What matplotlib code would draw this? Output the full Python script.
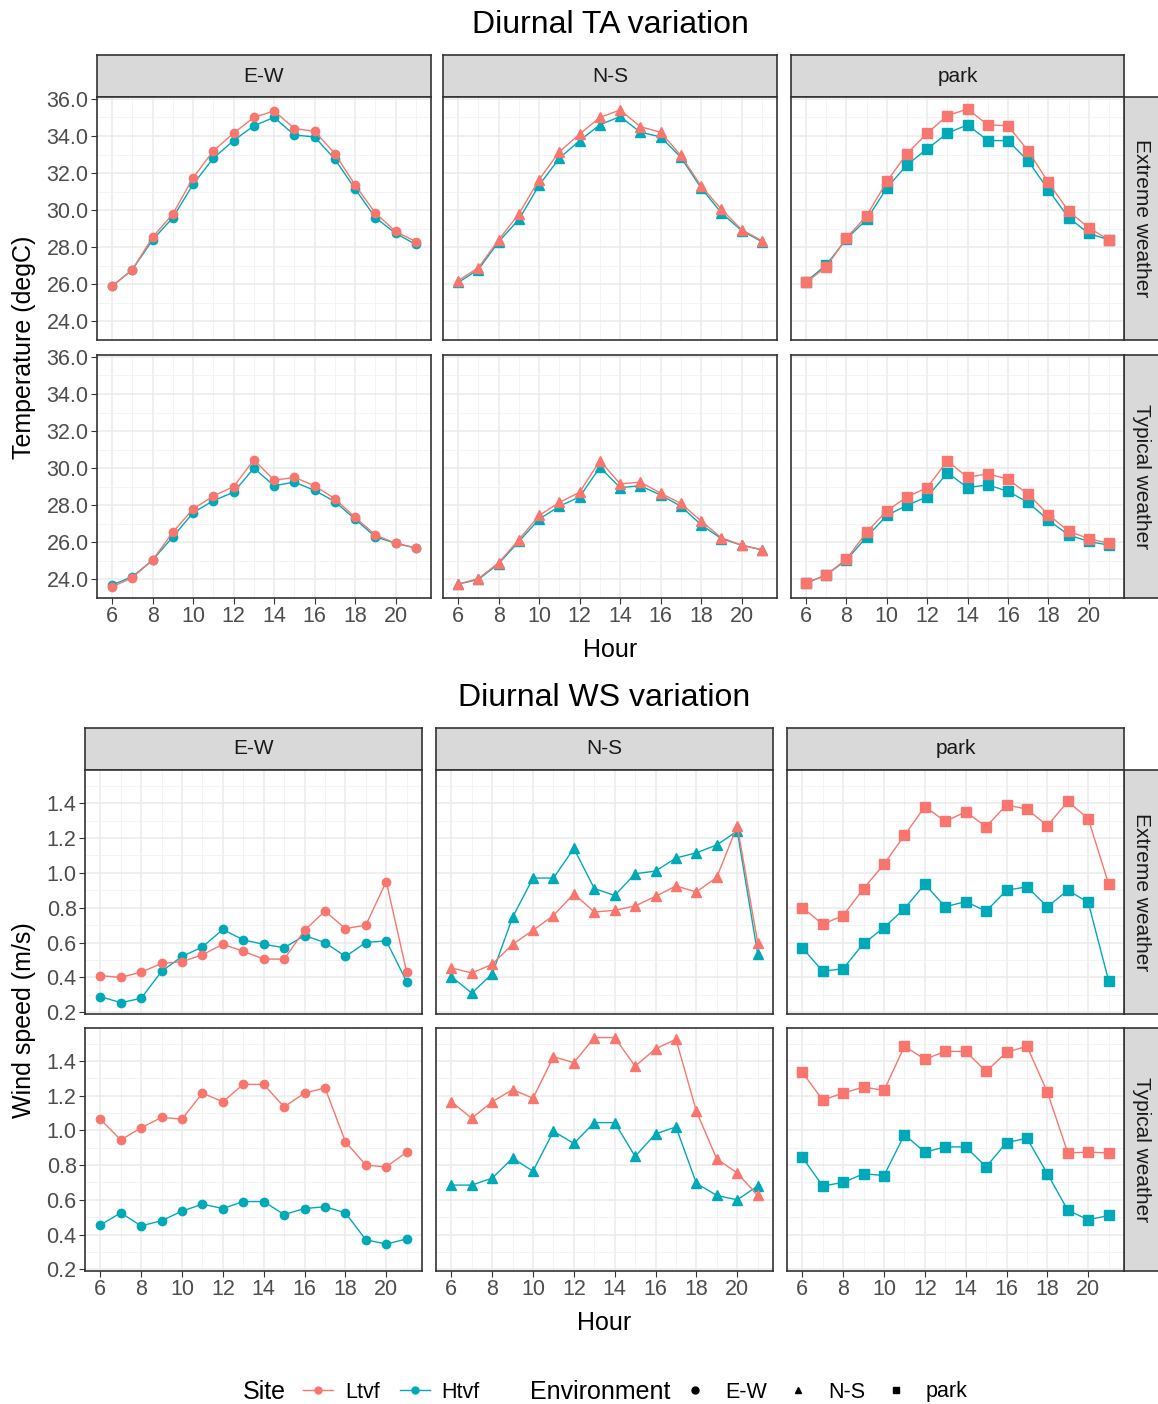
import matplotlib

matplotlib.use("Agg")
import matplotlib.pyplot as plt
from matplotlib.lines import Line2D
from matplotlib.ticker import FormatStrFormatter

plt.rcParams["font.family"] = ["Liberation Sans", "DejaVu Sans"]

hours = list(range(6, 22))
sites = ["E-W", "N-S", "park"]
weathers = ["Extreme weather", "Typical weather"]

# Temperature (degC), extreme weather
ta_ew_ext_ltvf = [25.9, 26.8, 28.55, 29.8, 31.75, 33.2, 34.15, 35.0, 35.35, 34.4, 34.25, 33.05, 31.35, 29.85, 28.85, 28.3]
ta_ew_ext_htvf = [25.9, 26.8, 28.4, 29.6, 31.4, 32.8, 33.75, 34.55, 35.0, 34.05, 33.95, 32.75, 31.15, 29.6, 28.75, 28.15]
ta_ns_ext_ltvf = [26.2, 26.9, 28.4, 29.8, 31.65, 33.15, 34.1, 35.0, 35.4, 34.5, 34.2, 32.95, 31.3, 30.05, 28.95, 28.35]
ta_ns_ext_htvf = [26.1, 26.8, 28.3, 29.5, 31.35, 32.8, 33.75, 34.6, 35.05, 34.2, 33.95, 32.85, 31.2, 29.85, 28.9, 28.3]
ta_pk_ext_ltvf = [26.1, 26.95, 28.5, 29.7, 31.55, 33.05, 34.15, 35.1, 35.45, 34.6, 34.55, 33.2, 31.5, 29.95, 29.05, 28.4]
ta_pk_ext_htvf = [26.15, 27.05, 28.45, 29.5, 31.2, 32.45, 33.3, 34.15, 34.6, 33.75, 33.75, 32.65, 31.1, 29.6, 28.75, 28.4]
# Temperature (degC), typical weather
ta_ew_typ_ltvf = [23.6, 24.1, 25.05, 26.55, 27.8, 28.5, 29.0, 30.45, 29.35, 29.5, 29.05, 28.35, 27.35, 26.4, 25.95, 25.7]
ta_ew_typ_htvf = [23.7, 24.15, 25.05, 26.3, 27.6, 28.25, 28.7, 30.0, 29.05, 29.25, 28.8, 28.2, 27.25, 26.3, 25.95, 25.7]
ta_ns_typ_ltvf = [23.75, 24.05, 24.9, 26.15, 27.45, 28.15, 28.7, 30.4, 29.15, 29.25, 28.65, 28.1, 27.15, 26.25, 25.85, 25.6]
ta_ns_typ_htvf = [23.75, 24.0, 24.85, 26.05, 27.25, 27.95, 28.45, 30.05, 28.95, 29.05, 28.55, 27.95, 26.95, 26.2, 25.85, 25.6]
ta_pk_typ_ltvf = [23.8, 24.25, 25.1, 26.55, 27.7, 28.45, 28.95, 30.4, 29.5, 29.7, 29.4, 28.6, 27.5, 26.6, 26.2, 25.95]
ta_pk_typ_htvf = [23.8, 24.25, 25.05, 26.3, 27.45, 28.0, 28.45, 29.75, 28.95, 29.1, 28.75, 28.15, 27.2, 26.4, 26.05, 25.85]

# Wind speed (m/s), extreme weather
ws_ew_ext_ltvf = [0.41, 0.40, 0.43, 0.48, 0.49, 0.53, 0.59, 0.55, 0.505, 0.505, 0.67, 0.78, 0.68, 0.70, 0.95, 0.43]
ws_ew_ext_htvf = [0.29, 0.255, 0.28, 0.435, 0.52, 0.575, 0.675, 0.615, 0.59, 0.57, 0.64, 0.60, 0.52, 0.60, 0.61, 0.375]
ws_ns_ext_ltvf = [0.455, 0.425, 0.475, 0.59, 0.67, 0.755, 0.88, 0.775, 0.785, 0.81, 0.865, 0.925, 0.89, 0.975, 1.27, 0.60]
ws_ns_ext_htvf = [0.405, 0.31, 0.42, 0.745, 0.97, 0.97, 1.14, 0.91, 0.87, 0.995, 1.01, 1.085, 1.115, 1.16, 1.24, 0.535]
ws_pk_ext_ltvf = [0.80, 0.705, 0.755, 0.91, 1.05, 1.215, 1.38, 1.295, 1.35, 1.265, 1.39, 1.365, 1.27, 1.41, 1.31, 0.935]
ws_pk_ext_htvf = [0.57, 0.435, 0.45, 0.595, 0.685, 0.795, 0.935, 0.805, 0.835, 0.78, 0.90, 0.92, 0.805, 0.90, 0.83, 0.38]
# Wind speed (m/s), typical weather
ws_ew_typ_ltvf = [1.065, 0.945, 1.015, 1.075, 1.065, 1.215, 1.165, 1.265, 1.265, 1.135, 1.215, 1.245, 0.935, 0.80, 0.79, 0.875]
ws_ew_typ_htvf = [0.455, 0.525, 0.45, 0.48, 0.535, 0.575, 0.55, 0.59, 0.59, 0.515, 0.55, 0.56, 0.525, 0.37, 0.345, 0.375]
ws_ns_typ_ltvf = [1.165, 1.07, 1.165, 1.235, 1.185, 1.425, 1.39, 1.535, 1.535, 1.37, 1.47, 1.525, 1.11, 0.835, 0.755, 0.625]
ws_ns_typ_htvf = [0.685, 0.685, 0.725, 0.84, 0.765, 0.995, 0.925, 1.045, 1.045, 0.85, 0.98, 1.02, 0.695, 0.625, 0.60, 0.68]
ws_pk_typ_ltvf = [1.335, 1.175, 1.215, 1.25, 1.23, 1.485, 1.41, 1.455, 1.455, 1.34, 1.45, 1.485, 1.22, 0.87, 0.875, 0.87]
ws_pk_typ_htvf = [0.845, 0.68, 0.70, 0.75, 0.74, 0.975, 0.875, 0.905, 0.905, 0.79, 0.93, 0.955, 0.75, 0.54, 0.485, 0.51]

TA = {
    ("E-W", "Extreme weather"): (ta_ew_ext_ltvf, ta_ew_ext_htvf),
    ("N-S", "Extreme weather"): (ta_ns_ext_ltvf, ta_ns_ext_htvf),
    ("park", "Extreme weather"): (ta_pk_ext_ltvf, ta_pk_ext_htvf),
    ("E-W", "Typical weather"): (ta_ew_typ_ltvf, ta_ew_typ_htvf),
    ("N-S", "Typical weather"): (ta_ns_typ_ltvf, ta_ns_typ_htvf),
    ("park", "Typical weather"): (ta_pk_typ_ltvf, ta_pk_typ_htvf),
}
WS = {
    ("E-W", "Extreme weather"): (ws_ew_ext_ltvf, ws_ew_ext_htvf),
    ("N-S", "Extreme weather"): (ws_ns_ext_ltvf, ws_ns_ext_htvf),
    ("park", "Extreme weather"): (ws_pk_ext_ltvf, ws_pk_ext_htvf),
    ("E-W", "Typical weather"): (ws_ew_typ_ltvf, ws_ew_typ_htvf),
    ("N-S", "Typical weather"): (ws_ns_typ_ltvf, ws_ns_typ_htvf),
    ("park", "Typical weather"): (ws_pk_typ_ltvf, ws_pk_typ_htvf),
}

W, H = 1158, 1404
RED = "#F8766D"
TEAL = "#00A9B8"
MARKERS = {"E-W": "o", "N-S": "^", "park": "s"}
MSIZE = {"E-W": 6.0, "N-S": 7.0, "park": 6.5}
STRIP = "#D9D9D9"
BORDER = "#333333"
TICKC = "#4D4D4D"

fig = plt.figure(figsize=(W / 100, H / 100), dpi=100, facecolor="white")


def px_axes(x0, y0, x1, y1):
    return fig.add_axes([x0 / W, 1 - y1 / H, (x1 - x0) / W, (y1 - y0) / H])


def strip(x0, y0, x1, y1, label, rotation=0):
    ax = px_axes(x0, y0, x1, y1)
    ax.set_facecolor(STRIP)
    ax.set_xticks([])
    ax.set_yticks([])
    for s in ax.spines.values():
        s.set_color(BORDER)
        s.set_linewidth(1.2)
    ax.text(0.5, 0.5, label, transform=ax.transAxes, ha="center", va="center",
            fontsize=15, color="#1A1A1A", rotation=rotation)


def block(data, title, title_y, cols, rows, strip_y, yticks, yminor, ylim, ylabel,
          ylabel_y, xlabel_y):
    fig.text(0.5 * (cols[0][0] + cols[-1][1]) / W, 1 - title_y / H, title,
             ha="center", va="center", fontsize=23)
    for c, site in enumerate(sites):
        strip(cols[c][0], strip_y[0], cols[c][1], strip_y[1], site)
    for r, weather in enumerate(weathers):
        strip(cols[-1][1], rows[r][0], W + 2, rows[r][1], weather, rotation=-90)
        for c, site in enumerate(sites):
            ax = px_axes(cols[c][0], rows[r][0], cols[c][1], rows[r][1])
            ltvf, htvf = data[(site, weather)]
            for vals, col in ((htvf, TEAL), (ltvf, RED)):
                ax.plot(hours, vals, color=col, lw=1.0, marker=MARKERS[site],
                        ms=MSIZE[site], mec=col, mfc=col)
            ax.set_xlim(5.25, 21.75)
            ax.set_ylim(*ylim)
            ax.set_xticks(range(6, 21, 2))
            ax.set_xticks(range(7, 22, 2), minor=True)
            ax.set_yticks(yticks)
            ax.set_yticks(yminor, minor=True)
            ax.grid(which="major", color="#EBEBEB", lw=1.1)
            ax.grid(which="minor", color="#F3F3F3", lw=0.7)
            ax.set_axisbelow(True)
            ax.tick_params(which="minor", length=0)
            ax.tick_params(which="major", length=4, color=BORDER, labelsize=15.5,
                           labelcolor=TICKC, pad=2)
            ax.yaxis.set_major_formatter(FormatStrFormatter("%.1f"))
            for s in ax.spines.values():
                s.set_color(BORDER)
                s.set_linewidth(1.2)
            if c != 0:
                ax.tick_params(axis="y", labelleft=False, length=0)
            if r != len(weathers) - 1:
                ax.tick_params(axis="x", labelbottom=False, length=0)
    fig.text(0.5 * (cols[0][0] + cols[-1][1]) / W, 1 - xlabel_y / H, "Hour",
             ha="center", va="center", fontsize=18)
    fig.text(24 / W, 1 - ylabel_y / H, ylabel, ha="center", va="center",
             rotation=90, fontsize=18)


block(TA, "Diurnal TA variation", 25,
      [(97, 431), (443, 777), (791, 1124)], [(97, 340), (355, 598)], (55, 97),
      [24, 26, 28, 30, 32, 34, 36], [25, 27, 29, 31, 33, 35], (23.0, 36.1),
      "Temperature (degC)", 347, 650)

block(WS, "Diurnal WS variation", 698,
      [(85, 422), (436, 773), (787, 1124)], [(770, 1014), (1028, 1271)], (728, 770),
      [0.2, 0.4, 0.6, 0.8, 1.0, 1.2, 1.4], [0.3, 0.5, 0.7, 0.9, 1.1, 1.3, 1.5], (0.19, 1.59),
      "Wind speed (m/s)", 1020, 1323)

# legend
ly = 1 - 1392 / H
fig.text(243 / W, ly, "Site", ha="left", va="center", fontsize=18)
site_handles = [
    Line2D([], [], color=RED, lw=1.0, marker="o", ms=5),
    Line2D([], [], color=TEAL, lw=1.0, marker="o", ms=5),
]
fig.legend(site_handles, ["Ltvf", "Htvf"], loc="center left", bbox_to_anchor=(303 / W, ly),
           ncol=2, frameon=False, fontsize=15.5, handlelength=1.4, columnspacing=0.93,
           handletextpad=0.55, borderaxespad=0, borderpad=0)
fig.text(530 / W, ly, "Environment", ha="left", va="center", fontsize=18)
env_handles = [Line2D([], [], color="black", lw=0, marker=MARKERS[s], ms=5) for s in sites]
fig.legend(env_handles, sites, loc="center left", bbox_to_anchor=(684 / W, ly),
           ncol=3, frameon=False, fontsize=15.5, handlelength=1.0, columnspacing=0.94,
           handletextpad=0.9, borderaxespad=0, borderpad=0)

fig.savefig("out.png", dpi=100, facecolor="white")
